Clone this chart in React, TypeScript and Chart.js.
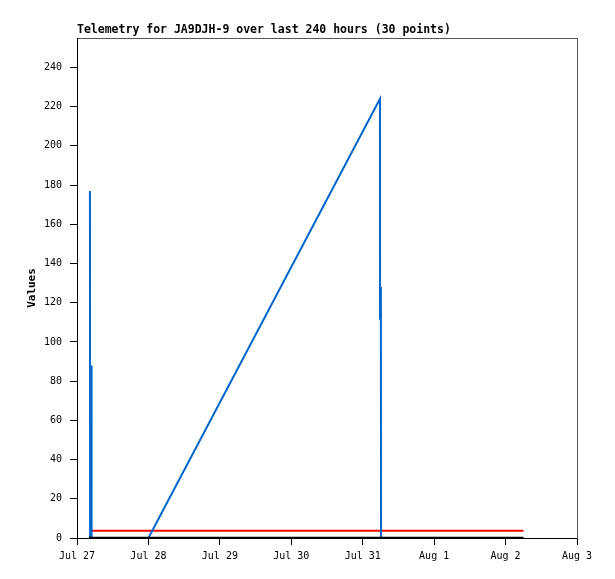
import { useEffect, useRef } from "react";
import { Chart, ChartConfiguration } from "chart.js/auto";

// hours since Jul 27 00:00
const blueHours = [4.35, 4.4, 4.85, 4.9, 24.0, 101.8, 101.82, 102.1, 102.15, 150.0];
const blueValues = [177, 0, 88, 0, 0, 224, 112, 128, 0, 0];

const blackHours = [4.0, 24.0, 101.8, 150.0];
const blackValues = [0, 0, 0, 0];

const redHours = [4.85, 24.0, 101.8, 150.0];
const redValues = [3.7, 3.7, 3.7, 3.7];

const dayLabels = ["Jul 27", "Jul 28", "Jul 29", "Jul 30", "Jul 31", "Aug 1", "Aug 2", "Aug 3"];

const mono = "'DejaVu Sans Mono', monospace";

const toPoints = (xs: number[], ys: number[]) => xs.map((x, i) => ({ x, y: ys[i] }));

export default function App() {
  const canvasRef = useRef<HTMLCanvasElement>(null);
  const chartRef = useRef<Chart | null>(null);

  useEffect(() => {
    if (!canvasRef.current) return;
    if (chartRef.current) chartRef.current.destroy();

    const ctx = canvasRef.current.getContext("2d");
    if (!ctx) return;

    const config: ChartConfiguration = {
      type: "line",
      data: {
        datasets: [
          {
            data: toPoints(redHours, redValues),
            borderColor: "#ff0000",
            borderWidth: 2,
            pointRadius: 0,
            order: 2,
          },
          {
            data: toPoints(blueHours, blueValues),
            borderColor: "#0066cc",
            borderWidth: 2,
            pointRadius: 0,
            order: 1,
          },
          {
            data: toPoints(blackHours, blackValues),
            borderColor: "#000000",
            borderWidth: 2.5,
            pointRadius: 0,
            order: 0,
          },
        ],
      },
      options: {
        animation: false,
        responsive: true,
        maintainAspectRatio: false,
        layout: { padding: { left: 0, right: 38, top: 0, bottom: 0 } },
        plugins: {
          legend: { display: false },
          tooltip: { enabled: false },
          title: {
            display: true,
            text: "Telemetry for JA9DJH-9 over last 240 hours (30 points)",
            align: "start",
            fullSize: false,
            color: "#000",
            font: { family: mono, size: 11.5, weight: "bold" },
            padding: { top: 23, bottom: 1.2 },
          },
        },
        scales: {
          x: {
            type: "linear",
            min: 0,
            max: 168,
            border: { color: "#000", width: 1 },
            grid: { drawOnChartArea: false, tickLength: 7, color: "#000" },
            ticks: {
              stepSize: 24,
              autoSkip: false,
              maxRotation: 0,
              color: "#000",
              padding: 5,
              font: { family: mono, size: 10 },
              callback: (v) => dayLabels[Math.round(Number(v) / 24)] ?? "",
            },
            afterFit: (s) => {
              s.height = 41;
            },
          },
          x2: {
            type: "linear",
            position: "top",
            min: 0,
            max: 168,
            border: { color: "#555", width: 1 },
            grid: { display: false },
            ticks: { display: false },
            afterFit: (s) => {
              s.height = 0;
            },
          },
          y: {
            type: "linear",
            min: 0,
            max: 255,
            border: { color: "#000", width: 1 },
            grid: { drawOnChartArea: false, tickLength: 7, color: "#000" },
            ticks: {
              stepSize: 20,
              includeBounds: false,
              color: "#000",
              padding: 8,
              font: { family: mono, size: 10 },
            },
            title: {
              display: true,
              text: "Values",
              color: "#000",
              font: { family: mono, size: 11, weight: "bold" },
              padding: { top: 26, bottom: 0 },
            },
            afterFit: (s) => {
              s.width = 77;
            },
          },
          y2: {
            type: "linear",
            position: "right",
            min: 0,
            max: 255,
            border: { color: "#555", width: 1 },
            grid: { display: false },
            ticks: { display: false },
            afterFit: (s) => {
              s.width = 0;
            },
          },
        },
      },
    };

    chartRef.current = new Chart(ctx, config);

    return () => {
      if (chartRef.current) {
        chartRef.current.destroy();
        chartRef.current = null;
      }
    };
  }, []);

  return (
    <div style={{ position: "fixed", left: 0, top: 0, width: 615, height: 579, background: "#fff" }}>
      <canvas ref={canvasRef} />
    </div>
  );
}
